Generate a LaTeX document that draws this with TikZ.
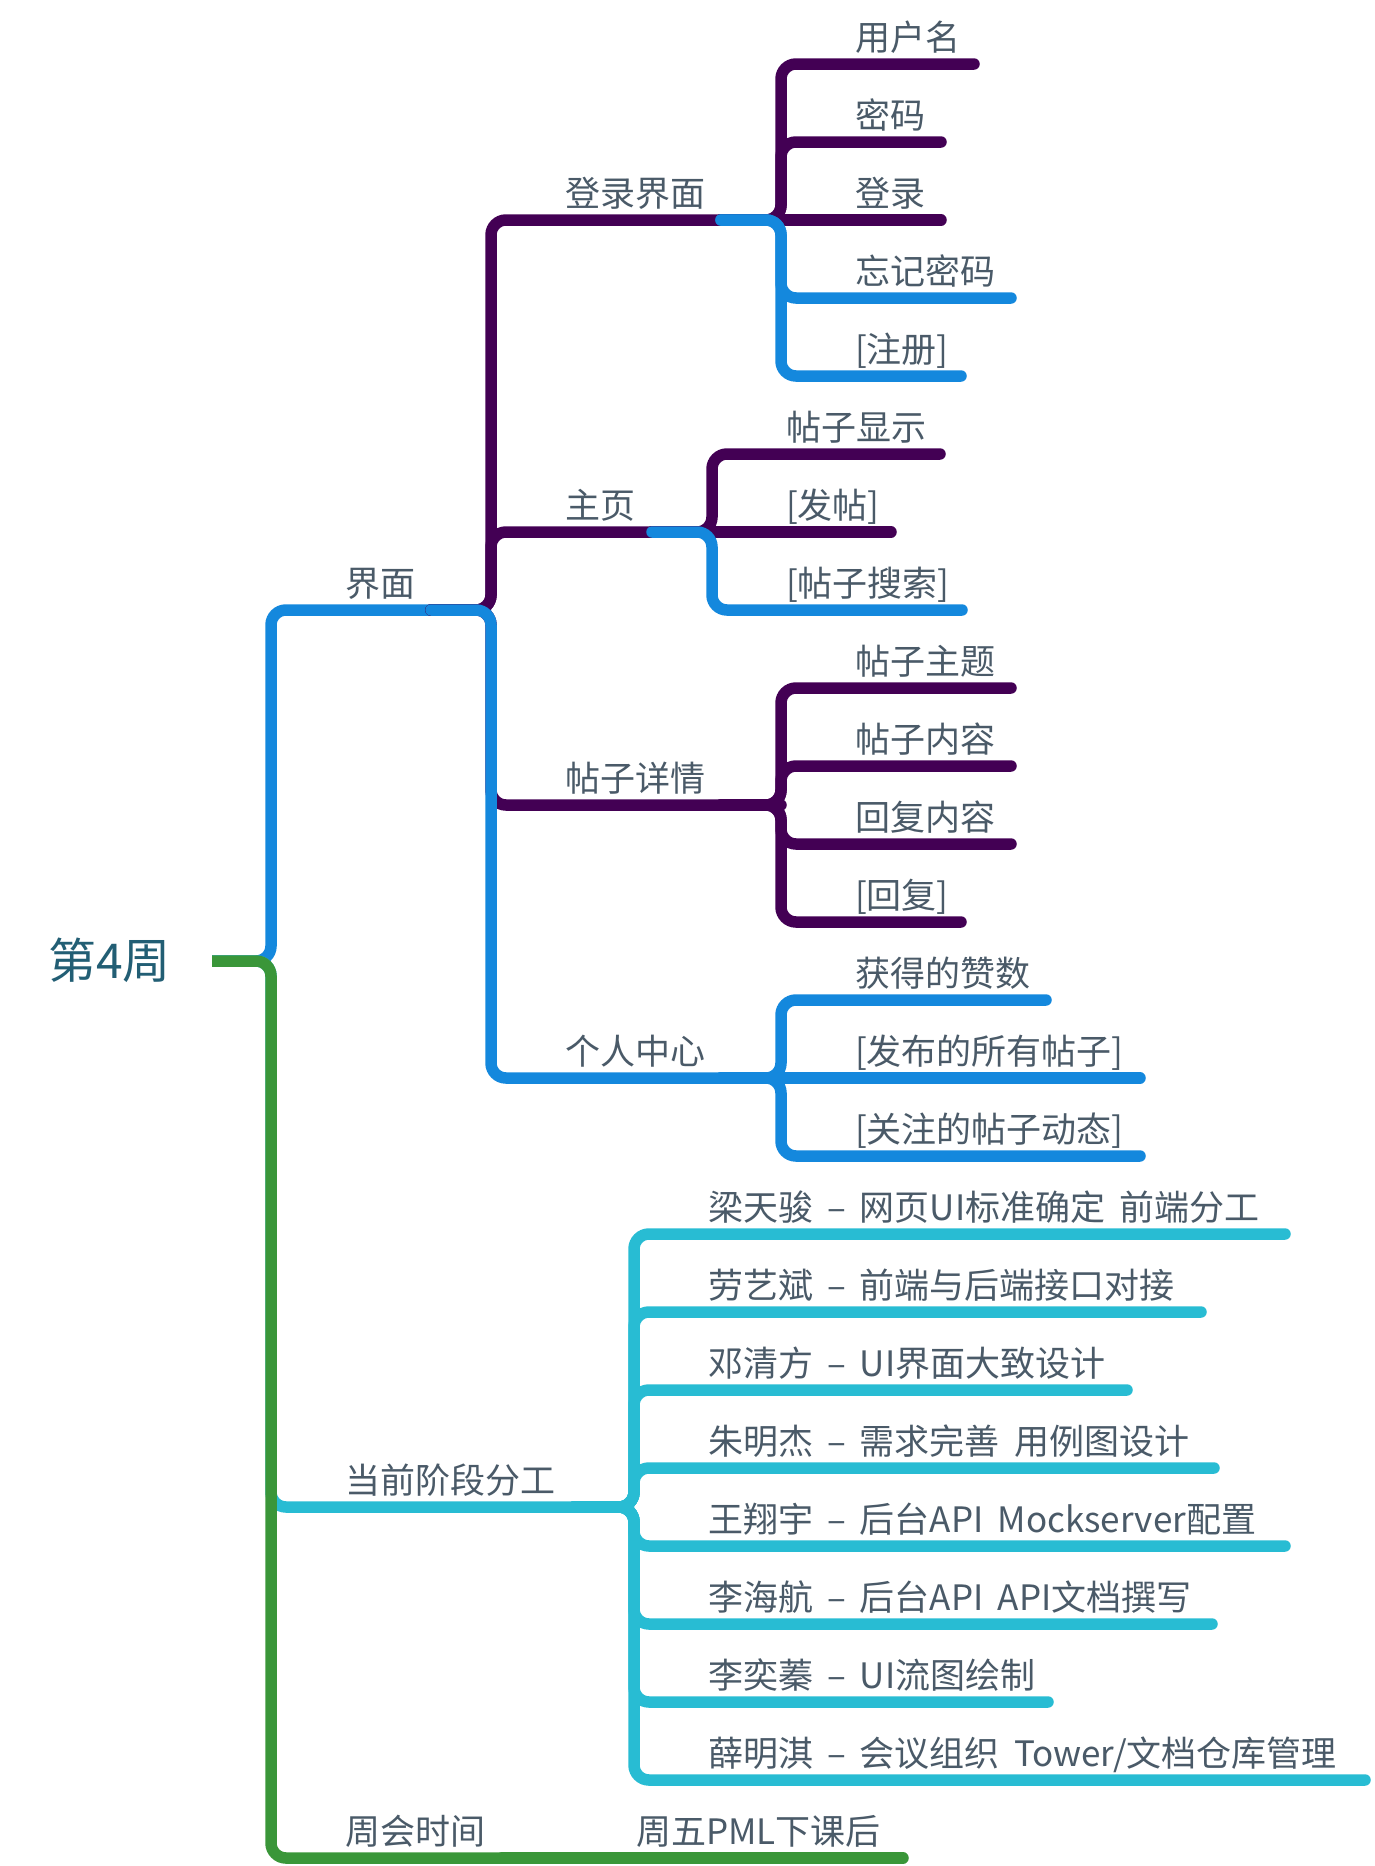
\documentclass[tikz,border=0pt]{standalone}
\usepackage{fontspec}
\setmainfont{Noto Sans CJK SC}[WordSpace=1.8]
\definecolor{purp}{HTML}{430054}
\definecolor{blu}{HTML}{1488DD}
\definecolor{cyn}{HTML}{28BCD3}
\definecolor{grn}{HTML}{3A9639}
\definecolor{txt}{HTML}{4A5A68}
\definecolor{roottxt}{HTML}{225E74}
\tikzset{
  conn/.style={line width=11.5pt, rounded corners=15pt, line cap=round},
  rootconn/.style={line width=11.5pt, rounded corners=15pt, line cap=butt},
  lbl/.style={anchor=base west, inner sep=0pt, outer sep=0pt, text=txt, font=\fontsize{35}{40}\selectfont},
}
% name, colour, vertical x, parent y, child y, path end x, text
\newcommand\mmbranch[7]{%
  \draw[conn,#2] (#3-60,#4) -- (#3,#4) -- (#3,#5) -- (#6,#5);
  \node[lbl] (#1) at (#3+74,#5-14) {#7};
}
% name, colour, vertical x, y, path end x, text
\newcommand\mmstraight[6]{%
  \draw[conn,#2] (#3-60,#4) -- (#5,#4);
  \node[lbl] (#1) at (#3+74,#4-14) {#6};
}
\begin{document}
\begin{tikzpicture}[x=1pt,y=-1pt]
\useasboundingbox (0,0) rectangle (1374,1866);
\node[anchor=base west, inner sep=0pt, text=roottxt, font=\fontsize{48}{52}\selectfont] (root) at (48,978) {第4周};

% 界面
\draw[rootconn,blu] (212,961) -- (271,961) -- (271,610) -- (491,610);
\node[lbl] (jm) at (345,596) {界面};

\mmbranch{dl}{purp}{491}{610}{220}{781}{登录界面}
\mmbranch{yhm}{purp}{781}{220}{64}{974}{用户名}
\mmbranch{mm}{purp}{781}{220}{142}{941}{密码}
\mmstraight{dlu}{purp}{781}{220}{941}{登录}
\mmbranch{wjmm}{blu}{781}{220}{298}{1011}{忘记密码}
\mmbranch{zc}{blu}{781}{220}{376}{961}{[注册]}

\mmbranch{zy}{purp}{491}{610}{532}{712}{主页}
\mmbranch{tzxs}{purp}{712}{532}{454}{940}{帖子显示}
\mmstraight{ft}{purp}{712}{532}{891}{[发帖]}
\mmbranch{tzss}{blu}{712}{532}{610}{962}{[帖子搜索]}

\mmbranch{tzxq}{purp}{491}{610}{805}{781}{帖子详情}
\mmbranch{tzzt}{purp}{781}{805}{688}{1011}{帖子主题}
\mmbranch{tznr}{purp}{781}{805}{766}{1011}{帖子内容}
\mmbranch{hfnr}{purp}{781}{805}{844}{1011}{回复内容}
\mmbranch{hf}{purp}{781}{805}{922}{961}{[回复]}

\mmbranch{grzx}{blu}{491}{610}{1078}{781}{个人中心}
\mmbranch{hdzs}{blu}{781}{1078}{1000}{1046}{获得的赞数}
\mmstraight{fbtz}{blu}{781}{1078}{1140}{[发布的所有帖子]}
\mmbranch{gztz}{blu}{781}{1078}{1156}{1140}{[关注的帖子动态]}

% 当前阶段分工
\draw[rootconn,cyn] (212,961) -- (271,961) -- (271,1507) -- (634,1507);
\node[lbl] (dq) at (345,1493) {当前阶段分工};
\mmbranch{p1}{cyn}{634}{1507}{1234}{1285}{梁天骏 – 网页UI标准确定 前端分工}
\mmbranch{p2}{cyn}{634}{1507}{1312}{1201}{劳艺斌 – 前端与后端接口对接}
\mmbranch{p3}{cyn}{634}{1507}{1390}{1127}{邓清方 – UI界面大致设计}
\mmbranch{p4}{cyn}{634}{1507}{1468}{1214}{朱明杰 – 需求完善 用例图设计}
\mmbranch{p5}{cyn}{634}{1507}{1546}{1285}{王翔宇 – 后台API Mockserver配置}
\mmbranch{p6}{cyn}{634}{1507}{1624}{1212}{李海航 – 后台API API文档撰写}
\mmbranch{p7}{cyn}{634}{1507}{1702}{1048}{李奕蓁 – UI流图绘制}
\mmbranch{p8}{cyn}{634}{1507}{1780}{1365}{薛明淇 – 会议组织 Tower/文档仓库管理}

% 周会时间
\draw[rootconn,grn] (212,961) -- (271,961) -- (271,1858) -- (562,1858);
\node[lbl] (zh) at (345,1844) {周会时间};
\mmstraight{zw}{grn}{562}{1858}{903}{周五PML下课后}
\end{tikzpicture}
\end{document}
